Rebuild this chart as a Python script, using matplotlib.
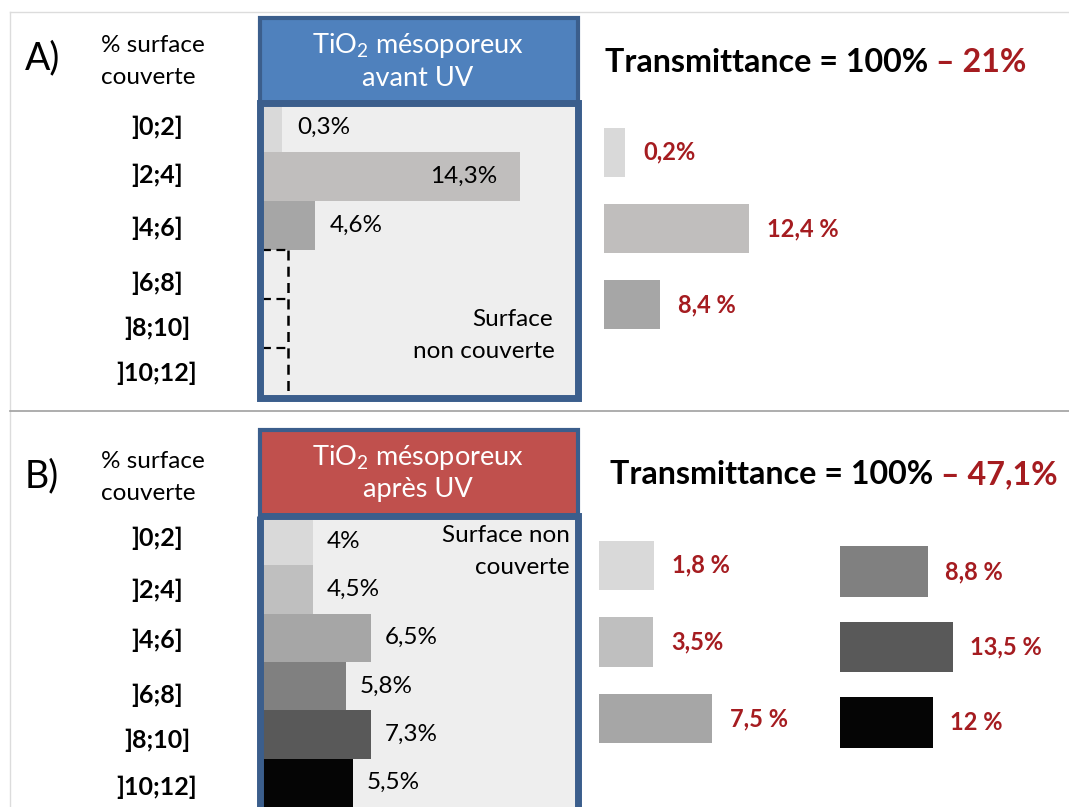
import matplotlib.pyplot as plt
from matplotlib.patches import Rectangle

# fonts: Lato as the closest stand-in for the original Calibri look
plt.rcParams['font.family'] = ['Lato', 'DejaVu Sans']
plt.rcParams['mathtext.default'] = 'regular'

W, H = 1069, 807

# ---- data ----
classes = [']0;2]', ']2;4]', ']4;6]', ']6;8]', ']8;10]', ']10;12]']

# A) TiO2 mesoporeux avant UV : share of surface covered per class
avant_labels = ['0,3%', '14,3%', '4,6%']
avant_len = [6.4, 82.4, 16.9]          # drawn bar length (% of box width, schematic)
vide_len = [8.3, 8.3, 8.3]             # classes ]6;8] .. ]10;12] : empty, dashed outline
avant_colors = ['#d9d9d9', '#c0bebd', '#a6a6a6']

# B) TiO2 mesoporeux apres UV
apres_labels = ['4%', '4,5%', '6,5%', '5,8%', '7,3%', '5,5%']
apres_len = [16.3, 16.3, 34.8, 26.8, 34.8, 29.1]
apres_colors = ['#d9d9d9', '#bfbfbf', '#a6a6a6', '#808080', '#595959', '#050505']

# contribution to the absorbed light (right hand side)
transA_total = '21%'
transA_labels = ['0,2%', '12,4 %', '8,4 %']
transA_len = [21, 145, 56]

transB_total = '47,1%'
transB_labels = ['1,8 %', '3,5%', '7,5 %', '8,8 %', '13,5 %', '12 %']
transB_len = [55, 54, 113, 88, 113, 93]

RED = '#a51c20'
BORDER = '#3b5e8c'
FS = 17.5      # regular text
FS_B = 18      # bold class labels
FS_R = 17      # red values
FS_T = 23.2    # transmittance titles

fig = plt.figure(figsize=(W / 100, H / 100), dpi=100)
bg = fig.add_axes([0, 0, 1, 1])
bg.set_xlim(0, W)
bg.set_ylim(H, 0)
bg.axis('off')


def px_axes(x0, y0, x1, y1):
    ax = fig.add_axes([x0 / W, 1 - y1 / H, (x1 - x0) / W, (y1 - y0) / H])
    ax.axis('off')
    return ax


def put_labels(ax, lengths, labels, pad, inside=(), **kw):
    for i, (w, lbl) in enumerate(zip(lengths, labels)):
        if i in inside:
            ax.annotate(lbl, (w, i), xytext=(-16, 0), textcoords='offset points',
                        ha='right', va='center', **kw)
        else:
            ax.annotate(lbl, (w, i), xytext=(pad, 0), textcoords='offset points',
                        ha='left', va='center', **kw)


def box_border(x, y, w, h, lw):
    # outline drawn on top of the bar axes so it hides the bar starts
    fig.add_artist(Rectangle((x, y), w, h, fill=False, ec=BORDER, lw=lw,
                             transform=bg.transData, zorder=5))


# frame lines
bg.plot([10, W], [12, 12], color='#dcdcdc', lw=1)
bg.plot([10, 10], [12, H], color='#dcdcdc', lw=1)
bg.plot([10, W], [411, 411], color='#a0a0a0', lw=1.2)

# ---- panel A ----
bg.text(25, 58, 'A)', fontsize=27, va='center')
bg.text(101, 45, '% surface', fontsize=FS, va='center')
bg.text(101, 77, 'couverte', fontsize=FS, va='center')
for lbl, y in zip(classes, [127, 175, 228, 283, 328, 373]):
    bg.text(157, y, lbl, fontsize=FS_B, fontweight='bold', ha='center', va='center')

bg.add_patch(Rectangle((259.5, 18), 318, 85, fc='#4f81bd', ec=BORDER, lw=3))
bg.add_patch(Rectangle((259.5, 103), 318, 295, fc='#eeeeee', lw=0))
box_border(259.5, 103, 318, 295, 5)
bg.text(418, 46, 'TiO$_2$ mésoporeux', color='white', fontsize=19.5, ha='center', va='center')
bg.text(418, 78, 'avant UV', color='white', fontsize=19.5, ha='center', va='center')
bg.text(553, 320, 'Surface', fontsize=FS, ha='right', va='center')
bg.text(555, 352, 'non couverte', fontsize=FS, ha='right', va='center')

axA = px_axes(262, 103, 575, 397)
axA.set_xlim(0, 100)
axA.set_ylim(5.5, -0.5)
axA.barh(range(3), avant_len, height=1, color=avant_colors)
# empty classes: dashed outline (top edges + right edge of each class)
rows_v = range(3, 6)
axA.hlines([r - 0.5 for r in rows_v], 0, vide_len, colors='black', ls=(0, (4, 2.5)), lw=1.6)
axA.vlines(vide_len, [r - 0.5 for r in rows_v], [r + 0.5 for r in rows_v],
           colors='black', ls=(0, (4, 2.5)), lw=1.8)
put_labels(axA, avant_len, avant_labels, 11, inside=(1,), fontsize=FS)

t = bg.text(605, 62, 'Transmittance = 100%', fontsize=FS_T, fontweight='bold', va='center')
bg.annotate(' – ' + transA_total, xy=(1, 0), xycoords=t, va='bottom', ha='left',
            fontsize=FS_T, fontweight='bold', color=RED)

axTA = px_axes(604, 114, 804, 343)
axTA.set_xlim(0, 200)
axTA.set_ylim(2.5, -0.5)
axTA.barh(range(3), transA_len, height=0.64, color=avant_colors)
put_labels(axTA, transA_len, transA_labels, 13, fontsize=FS_R, fontweight='bold', color=RED)

# ---- panel B ----
bg.text(25, 476, 'B)', fontsize=27, va='center')
bg.text(101, 462, '% surface', fontsize=FS, va='center')
bg.text(101, 493, 'couverte', fontsize=FS, va='center')
for lbl, y in zip(classes, [538, 590, 640, 695, 740, 787]):
    bg.text(157, y, lbl, fontsize=FS_B, fontweight='bold', ha='center', va='center')

bg.add_patch(Rectangle((259.5, 430), 318, 86, fc='#c0504d', ec=BORDER, lw=3))
bg.add_patch(Rectangle((259.5, 516), 318, 310, fc='#eeeeee', lw=0))
box_border(259.5, 516, 318, 310, 5)
bg.text(418, 458, 'TiO$_2$ mésoporeux', color='white', fontsize=19.5, ha='center', va='center')
bg.text(418, 490, 'après UV', color='white', fontsize=19.5, ha='center', va='center')
bg.text(570, 536, 'Surface non', fontsize=FS, ha='right', va='center')
bg.text(570, 568, 'couverte', fontsize=FS, ha='right', va='center')

axB = px_axes(262, 517, 575, 807)
axB.set_xlim(0, 100)
axB.set_ylim(5.5, -0.5)
axB.barh(range(6), apres_len, height=1, color=apres_colors)
put_labels(axB, apres_len, apres_labels, 10, fontsize=FS)

t = bg.text(610, 475, 'Transmittance = 100%', fontsize=FS_T, fontweight='bold', va='center')
bg.annotate(' – ' + transB_total, xy=(1, 0), xycoords=t, va='bottom', ha='left',
            fontsize=FS_T, fontweight='bold', color=RED)

axTB1 = px_axes(599, 527, 799, 757)
axTB1.set_xlim(0, 200)
axTB1.set_ylim(2.5, -0.5)
axTB1.barh(range(3), transB_len[:3], height=0.64, color=apres_colors[:3])
put_labels(axTB1, transB_len[:3], transB_labels[:3], 13, fontsize=FS_R, fontweight='bold', color=RED)

axTB2 = px_axes(840, 534, 1040, 760)
axTB2.set_xlim(0, 200)
axTB2.set_ylim(2.5, -0.5)
axTB2.barh(range(3), transB_len[3:], height=0.67, color=apres_colors[3:])
put_labels(axTB2, transB_len[3:], transB_labels[3:], 12, fontsize=FS_R, fontweight='bold', color=RED)

fig.savefig('out.png', dpi=100)
